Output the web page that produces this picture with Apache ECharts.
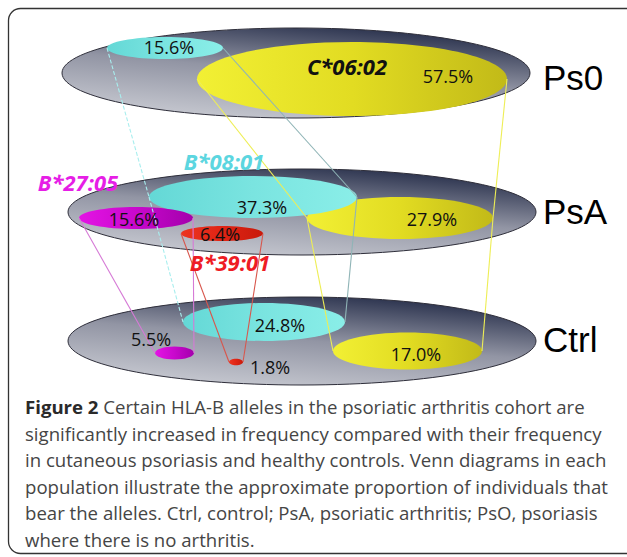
<!DOCTYPE html>
<html>
<head>
<meta charset="utf-8">
<script src="https://cdn.jsdelivr.net/npm/echarts@6/dist/echarts.min.js"></script>
<style>
html,body{margin:0;padding:0;background:#fff;}
#main{width:627px;height:557px;}
</style>
</head>
<body>
<div id="main"></div>
<script>
// ---------------- DATA ----------------
const populations = ['Ps0', 'PsA', 'Ctrl'];
const alleles = ['C*06:02', 'B*08:01', 'B*27:05', 'B*39:01'];
const ps0Freq = [57.5, 15.6, null, null];
const psaFreq = [27.9, 37.3, 15.6, 6.4];
const ctrlFreq = [17.0, 24.8, 5.5, 1.8];
const captionBold = 'Figure 2';
const captionLines = [
  ' Certain HLA-B alleles in the psoriatic arthritis cohort are',
  'significantly increased in frequency compared with their frequency',
  'in cutaneous psoriasis and healthy controls. Venn diagrams in each',
  'population illustrate the approximate proportion of individuals that',
  'bear the alleles. Ctrl, control; PsA, psoriatic arthritis; PsO, psoriasis',
  'where there is no arthritis.'
];

// ---------------- LAYOUT (drawing space 627 x 557) ----------------
const popShape = { Ps0: [296, 73, 234, 45], PsA: [302, 212, 234, 43], Ctrl: [302, 341, 234, 44] };
const popLabelPos = { Ps0: [543, 77], PsA: [543, 211], Ctrl: [543, 339] };
const alleleShape = {
  Ps0:  [[352, 79, 155, 37], [165, 48, 58, 11], null, null],
  PsA:  [[400, 218, 93, 21], [253, 197, 104, 21], [136, 218, 57, 11], [222, 233.5, 41, 7.5]],
  Ctrl: [[407.5, 351, 74.5, 18.5], [264, 322, 81, 19], [174.5, 353, 19.5, 6.5], [236, 362, 7, 3.2]]
};
const pctLabelPos = {
  Ps0:  [[448, 76], [169, 47], null, null],
  PsA:  [[432, 219], [262, 207], [134, 219], [220, 234]],
  Ctrl: [[416, 354], [280, 325], [151, 339], [270, 367]]
};
const alleleLabelPos = [[347, 66], [224, 161], [78, 182], [230, 262]];
const captionStart = [25, 410];
const captionStep = 26.6;

// ---------------- STYLE ----------------
function lg(x, y, x2, y2, stops) {
  return { type: 'linear', x: x, y: y, x2: x2, y2: y2,
    colorStops: stops.map(function (c, i) { return { offset: i / (stops.length - 1), color: c }; }) };
}
const greyFill = lg(0.3, 1, 0.75, 0, ['#c6c8d0', '#9295a4', '#242c48']);
const alleleFill = [
  lg(0, 0.5, 1, 0.5, ['#f2f034', '#e2dc22', '#c2ba18']),
  lg(0, 0.5, 1, 0.5, ['#64d8d6', '#7ae4e0', '#8aeee8']),
  lg(0, 0.5, 1, 0.5, ['#e414e4', '#c808cc', '#a400ac']),
  lg(0, 0.5, 1, 0.5, ['#ec3420', '#e02414', '#c81a0c'])
];
const alleleLabelColor = ['#111111', '#5cd6e0', '#e61ee6', '#ee1c24'];
const linkColor = [['#eeee55', '#eeee55'], ['#a8eeee', '#8fb4b6'], ['#d67ad6', '#d67ad6'], ['#d8564c', '#d8564c']];
const linkDash = [[null, null], [[4, 2], null], [null, null], [null, null]];
const pctFont = '18px "Open Sans", sans-serif';
const popFont = '35px "Liberation Sans", Arial, sans-serif';
const alleleFont = 'italic bold 22px "Open Sans", sans-serif';
const captionFont = '18.6px "Open Sans", sans-serif';
const fontLineHeight = { pct: 18, pop: 35, allele: 22 };

// ---------------- BUILD ----------------
const ellipseData = [];
populations.forEach(function (p) {
  const g = popShape[p];
  ellipseData.push([g[0], g[1], g[2], g[3], -1]);
  alleleShape[p].forEach(function (s, i) { if (s) ellipseData.push([s[0], s[1], s[2], s[3], i]); });
});

const linkData = [];
alleles.forEach(function (a, i) {
  const chain = populations.map(function (p) { return alleleShape[p][i]; }).filter(Boolean);
  for (let k = 0; k < chain.length - 1; k++) {
    const u = chain[k], d = chain[k + 1];
    linkData.push([u[0] - u[2], u[1], d[0] - d[2], d[1], i, 0]);
    linkData.push([u[0] + u[2], u[1], d[0] + d[2], d[1], i, 1]);
  }
});

const freqByPop = { Ps0: ps0Freq, PsA: psaFreq, Ctrl: ctrlFreq };
const textData = [];
populations.forEach(function (p) {
  freqByPop[p].forEach(function (v, i) {
    if (v !== null) textData.push({ value: [pctLabelPos[p][i][0], pctLabelPos[p][i][1]], text: v.toFixed(1) + '%', font: pctFont, lh: fontLineHeight.pct, color: '#111', align: 'center' });
  });
  textData.push({ value: popLabelPos[p], text: p, font: popFont, lh: fontLineHeight.pop, color: '#000', align: 'left' });
});
alleles.forEach(function (a, i) {
  textData.push({ value: alleleLabelPos[i], text: a, font: alleleFont, lh: fontLineHeight.allele, color: alleleLabelColor[i], align: 'center' });
});

const captionGraphics = captionLines.map(function (t, i) {
  return {
    type: 'text', left: captionStart[0], top: captionStart[1] + i * captionStep - 13,
    style: {
      text: i === 0 ? '{b|' + captionBold + '}' + t : t,
      font: captionFont, fill: '#454545',
      rich: { b: { font: 'bold 18.6px "Open Sans", sans-serif', fill: '#2a2a2a' } }
    }
  };
});
captionGraphics.push({
  type: 'rect', shape: { x: 8.5, y: 8.5, width: 660, height: 545, r: 12 },
  style: { fill: 'none', stroke: '#333', lineWidth: 1.3 }, z: 0
});

const chart = echarts.init(document.getElementById('main'), null, { renderer: 'svg' });
chart.setOption({
  animation: false,
  grid: { left: 0, right: 0, top: 0, bottom: 0 },
  xAxis: { type: 'value', min: 0, max: 627, show: false },
  yAxis: { type: 'value', min: 0, max: 557, inverse: true, show: false },
  graphic: captionGraphics,
  series: [
    {
      type: 'custom', z: 2, data: ellipseData,
      renderItem: function (params, api) {
        const c = api.coord([api.value(0), api.value(1)]);
        const s = api.size([api.value(2), api.value(3)]);
        const k = api.value(4);
        return {
          type: 'ellipse',
          shape: { cx: c[0], cy: c[1], rx: s[0], ry: s[1] },
          style: k < 0 ? { fill: greyFill, stroke: '#2e2e3a', lineWidth: 1 } : { fill: alleleFill[k], stroke: 'none' }
        };
      }
    },
    {
      type: 'custom', z: 3, data: linkData,
      renderItem: function (params, api) {
        const a = api.coord([api.value(0), api.value(1)]);
        const b = api.coord([api.value(2), api.value(3)]);
        const i = api.value(4), side = api.value(5);
        return {
          type: 'line', shape: { x1: a[0], y1: a[1], x2: b[0], y2: b[1] },
          style: { stroke: linkColor[i][side], lineWidth: 1.1, lineDash: linkDash[i][side] || null }
        };
      }
    },
    {
      type: 'custom', z: 4, data: textData,
      renderItem: function (params, api) {
        const d = textData[params.dataIndex];
        const c = api.coord([api.value(0), api.value(1)]);
        return {
          type: 'text', x: c[0], y: c[1],
          style: { text: d.text, font: d.font, lineHeight: d.lh, fill: d.color, align: d.align, verticalAlign: 'middle' }
        };
      }
    }
  ]
});
</script>
</body>
</html>
